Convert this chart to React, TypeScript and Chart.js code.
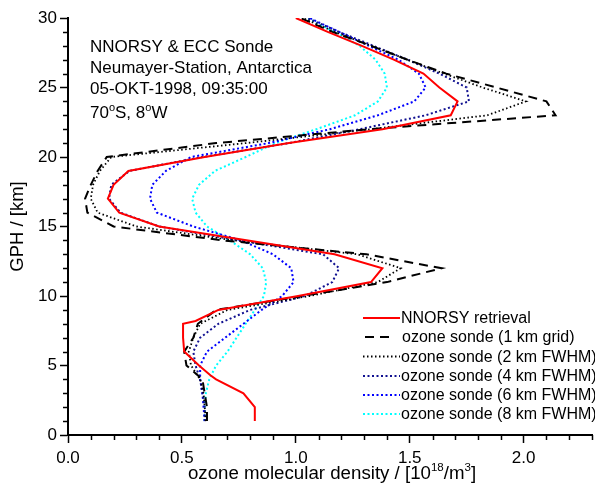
import React, { useEffect, useRef } from 'react';
import { Chart, registerables } from 'chart.js';

Chart.register(...registerables);

const FONT = '"Liberation Sans", Arial, Helvetica, sans-serif';

// ---- data (x: ozone density [1e18/m^3], y: altitude GPH [km]) ----
const sondeAltitudes = [1, 2, 3, 4, 5, 6, 7, 8, 9, 10, 11, 12, 13, 14, 15, 16, 17, 18, 19, 20, 21, 22, 23, 24, 25, 26, 27, 28, 29, 30];
const nnorsyAltitudes = [1, 2, 3, 4, 4.3, 5, 6, 7, 8, 8.2, 9, 10, 11, 12, 13, 14, 15, 16, 17, 18, 19, 20, 21, 22, 23, 24, 25, 26, 27, 28, 29, 30];
const nnorsyRetrieval = [0.82, 0.82, 0.77, 0.65, 0.625, 0.575, 0.51, 0.505, 0.505, 0.56, 0.66, 1.01, 1.33, 1.38, 1.17, 0.79, 0.40, 0.225, 0.175, 0.20, 0.265, 0.60, 0.97, 1.38, 1.68, 1.71, 1.63, 1.56, 1.43, 1.29, 1.14, 1.0];
const sonde1kmGrid = [0.61, 0.61, 0.60, 0.59, 0.52, 0.51, 0.55, 0.57, 0.65, 1.03, 1.40, 1.64, 1.31, 0.68, 0.20, 0.085, 0.075, 0.10, 0.13, 0.17, 0.65, 1.32, 2.14, 2.10, 1.88, 1.66, 1.49, 1.33, 1.16, 1.02];
const sonde2kmFwhm = [0.605, 0.60, 0.595, 0.58, 0.54, 0.53, 0.55, 0.58, 0.70, 1.06, 1.36, 1.46, 1.27, 0.73, 0.30, 0.13, 0.10, 0.11, 0.14, 0.19, 0.78, 1.33, 1.84, 2.01, 1.82, 1.65, 1.49, 1.33, 1.17, 1.03];
const sonde4kmFwhm = [0.60, 0.60, 0.59, 0.58, 0.56, 0.55, 0.58, 0.66, 0.80, 1.04, 1.16, 1.19, 1.12, 0.75, 0.40, 0.23, 0.18, 0.19, 0.27, 0.59, 0.97, 1.28, 1.57, 1.76, 1.75, 1.63, 1.49, 1.34, 1.19, 1.05];
const sonde6kmFwhm = [0.60, 0.595, 0.59, 0.58, 0.58, 0.61, 0.69, 0.77, 0.85, 0.94, 0.99, 0.98, 0.90, 0.76, 0.55, 0.39, 0.36, 0.37, 0.43, 0.54, 0.88, 1.15, 1.36, 1.52, 1.57, 1.54, 1.45, 1.32, 1.19, 1.06];
const sonde8kmFwhm = [0.60, 0.60, 0.605, 0.62, 0.65, 0.70, 0.74, 0.78, 0.82, 0.86, 0.87, 0.855, 0.80, 0.71, 0.61, 0.56, 0.545, 0.575, 0.645, 0.78, 0.91, 1.09, 1.26, 1.36, 1.40, 1.39, 1.35, 1.28, 1.17, 1.05];

const seriesLabels = [
  'NNORSY retrieval',
  'ozone sonde (1 km grid)',
  'ozone sonde (2 km FWHM)',
  'ozone sonde (4 km FWHM)',
  'ozone sonde (6 km FWHM)',
  'ozone sonde (8 km FWHM)',
];
const infoLines = ['NNORSY & ECC Sonde', 'Neumayer-Station, Antarctica', '05-OKT-1998, 09:35:00'];
const xMajorStep = 0.5;
const xMinorStep = 0.1;
const yMajorStep = 5;
const yMinorStep = 1;

const styles = [
  { color: '#ff0000', width: 2, dash: [] as number[] },
  { color: '#000000', width: 2, dash: [9, 6] },
  { color: '#000000', width: 1.8, dash: [1.5, 2.5] },
  { color: '#101090', width: 2, dash: [2, 2.5] },
  { color: '#0000ff', width: 2, dash: [2, 2.5] },
  { color: '#00ffff', width: 2, dash: [2, 2.5] },
];

function toPoints(xs: number[], ys: number[]) {
  return xs.map((x, i) => ({ x, y: ys[i] }));
}

function drawSup(ctx: CanvasRenderingContext2D, parts: { t: string; sup?: boolean }[], x: number, y: number, size: number, supSize: number, align: 'left' | 'center') {
  const widths = parts.map((p) => {
    ctx.font = `${p.sup ? supSize : size}px ${FONT}`;
    return ctx.measureText(p.t).width;
  });
  const total = widths.reduce((a, b) => a + b, 0);
  let cx = align === 'center' ? x - total / 2 : x;
  ctx.textAlign = 'left';
  ctx.textBaseline = 'alphabetic';
  parts.forEach((p, i) => {
    ctx.font = `${p.sup ? supSize : size}px ${FONT}`;
    ctx.fillText(p.t, cx, p.sup ? y - size * 0.42 : y);
    cx += widths[i];
  });
}

const overlayPlugin = {
  id: 'overlay',
  afterDraw(chart: any) {
    const ctx: CanvasRenderingContext2D = chart.ctx;
    const xs = chart.scales.x;
    const ys = chart.scales.y;
    const area = chart.chartArea;
    ctx.save();
    ctx.strokeStyle = '#000';
    ctx.fillStyle = '#000';
    // minor ticks
    ctx.lineWidth = 1.5;
    ctx.setLineDash([]);
    for (let i = 0; i <= Math.round(xs.max / xMinorStep); i++) {
      const v = i * xMinorStep;
      if (Math.abs(v / xMajorStep - Math.round(v / xMajorStep)) < 1e-6) continue;
      const px = Math.round(xs.getPixelForValue(v)) + 0.5;
      ctx.beginPath();
      ctx.moveTo(px, area.bottom);
      ctx.lineTo(px, area.bottom + 5);
      ctx.stroke();
    }
    for (let v = 0; v <= ys.max; v += yMinorStep) {
      if (v % yMajorStep === 0) continue;
      const py = Math.round(ys.getPixelForValue(v)) + 0.5;
      ctx.beginPath();
      ctx.moveTo(area.left - 5, py);
      ctx.lineTo(area.left, py);
      ctx.stroke();
    }

    // info text
    ctx.fillStyle = '#000';
    ctx.font = `17px ${FONT}`;
    ctx.textAlign = 'left';
    ctx.textBaseline = 'alphabetic';
    const infoX = 90;
    const infoY = [51.5, 72.5, 93.5];
    infoLines.forEach((t, i) => ctx.fillText(t, infoX, infoY[i]));
    drawSup(ctx, [{ t: '70' }, { t: 'o', sup: true }, { t: 'S, 8' }, { t: 'o', sup: true }, { t: 'W' }], infoX, 118, 17, 11, 'left');

    // x axis title
    drawSup(
      ctx,
      [{ t: 'ozone molecular density / [10' }, { t: '18', sup: true }, { t: '/m' }, { t: '3', sup: true }, { t: ']' }],
      (area.left + area.right) / 2 + 2,
      479,
      18.7,
      11.5,
      'center'
    );

    // legend
    const lx0 = 363;
    const lx1 = 400;
    const rowY = [318, 337, 356.5, 376, 395, 414];
    seriesLabels.forEach((label, i) => {
      const st = styles[i];
      ctx.strokeStyle = st.color;
      ctx.lineWidth = st.width;
      ctx.setLineDash(st.dash);
      ctx.beginPath();
      if (i === 1) {
        ctx.moveTo(365, rowY[i]);
        ctx.lineTo(394, rowY[i]);
      } else {
        ctx.moveTo(lx0, rowY[i]);
        ctx.lineTo(lx1, rowY[i]);
      }
      ctx.stroke();
      ctx.setLineDash([]);
      ctx.fillStyle = '#000';
      ctx.font = `16px ${FONT}`;
      ctx.textBaseline = 'middle';
      ctx.fillText(label, i === 1 ? 402 : 401, rowY[i] + 1);
    });
    ctx.restore();
  },
};

export default function App() {
  const canvasRef = useRef<HTMLCanvasElement | null>(null);

  useEffect(() => {
    const canvas = canvasRef.current;
    if (!canvas) return;
    const series = [
      toPoints(nnorsyRetrieval, nnorsyAltitudes),
      toPoints(sonde1kmGrid, sondeAltitudes),
      toPoints(sonde2kmFwhm, sondeAltitudes),
      toPoints(sonde4kmFwhm, sondeAltitudes),
      toPoints(sonde6kmFwhm, sondeAltitudes),
      toPoints(sonde8kmFwhm, sondeAltitudes),
    ];
    const chart = new Chart(canvas, {
      type: 'scatter',
      data: {
        datasets: series.map((data, i) => ({
          label: seriesLabels[i],
          data,
          showLine: true,
          borderColor: styles[i].color,
          backgroundColor: styles[i].color,
          borderWidth: styles[i].width,
          borderDash: styles[i].dash,
          pointRadius: 0,
          tension: 0,
          fill: false,
        })),
      },
      options: {
        responsive: false,
        animation: false,
        devicePixelRatio: 1,
        layout: { padding: { top: 18, right: 3, left: 0, bottom: 0 } },
        plugins: {
          legend: { display: false },
          tooltip: { enabled: false },
          title: { display: false },
        },
        scales: {
          x: {
            type: 'linear',
            min: 0,
            max: 2.3,
            ticks: {
              stepSize: xMajorStep,
              includeBounds: false,
              color: '#000',
              font: { family: FONT, size: 17 },
              padding: 5,
              maxRotation: 0,
              callback: (v: any) => Number(v).toFixed(1),
            },
            grid: { display: true, drawOnChartArea: false, drawTicks: true, tickLength: 8, tickWidth: 1.5, tickColor: '#000' },
            border: { display: true, color: '#000', width: 2 },
            afterFit: (s: any) => {
              s.height = 48;
            },
          },
          y: {
            type: 'linear',
            min: 0,
            max: 30,
            ticks: {
              stepSize: yMajorStep,
              includeBounds: false,
              color: '#000',
              font: { family: FONT, size: 17 },
              padding: 3,
            },
            title: {
              display: true,
              text: 'GPH / [km]',
              color: '#000',
              font: { family: FONT, size: 18.5 },
              padding: { top: 7, bottom: 0 },
            },
            grid: { display: true, drawOnChartArea: false, drawTicks: true, tickLength: 8, tickWidth: 1.5, tickColor: '#000' },
            border: { display: true, color: '#000', width: 2 },
            afterFit: (s: any) => {
              s.width = 68;
            },
          },
        },
      },
      plugins: [overlayPlugin],
    });
    return () => chart.destroy();
  }, []);

  return (
    <div style={{ position: 'fixed', left: 0, top: 0, width: 595, height: 483, background: '#fff' }}>
      <canvas ref={canvasRef} width={595} height={483} style={{ display: 'block' }} />
    </div>
  );
}
